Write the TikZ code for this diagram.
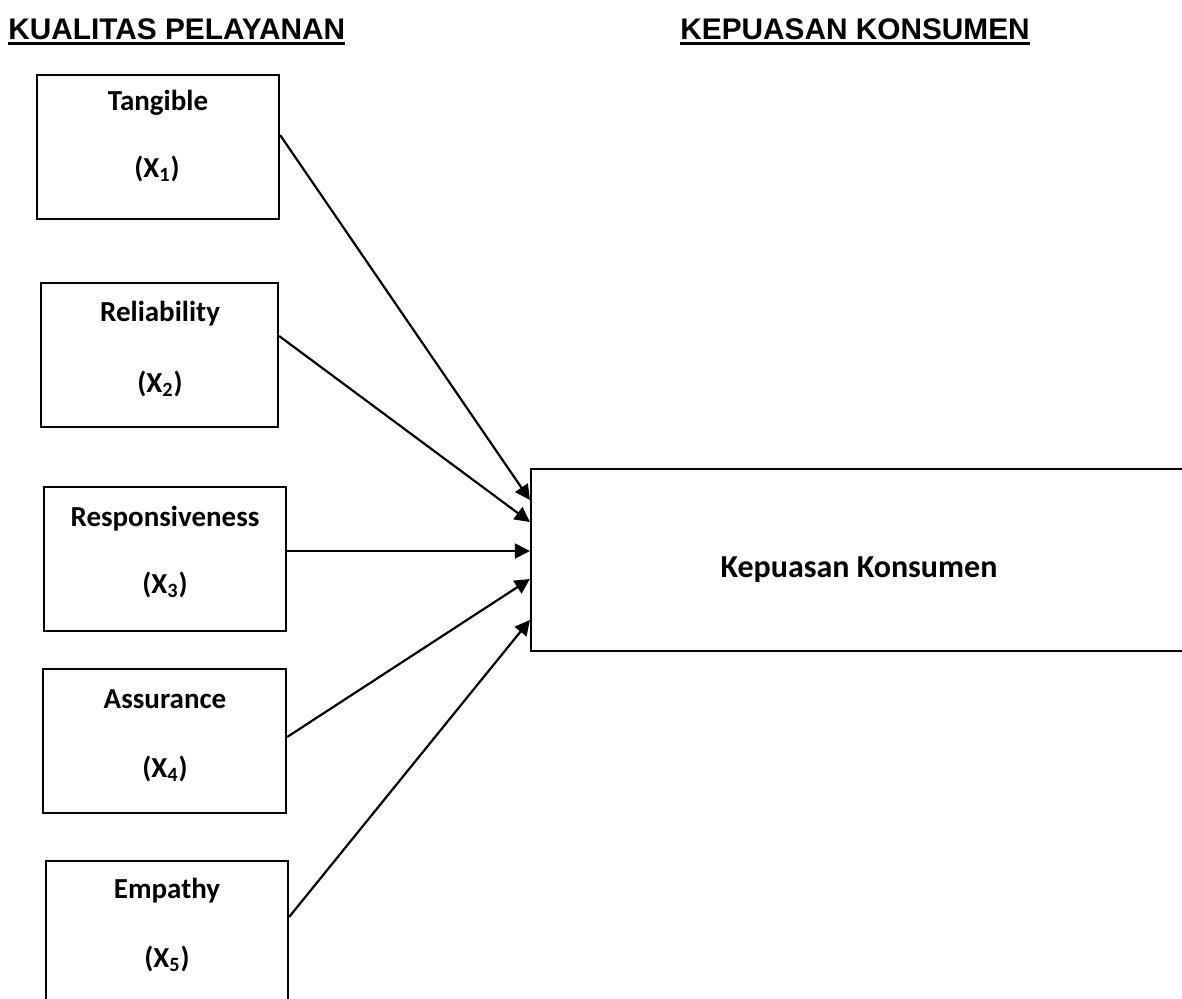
\documentclass[tikz,border=0pt]{standalone}
\usepackage{fontspec}
\setmainfont{Carlito}
\newfontfamily\hdrfont{Liberation Sans}
\usetikzlibrary{arrows.meta}
\usetikzlibrary{positioning}

\begin{document}
\begin{tikzpicture}[x=0.5pt, y=-0.5pt,
    varbox/.style={draw, line width=1.1pt, rectangle, inner sep=0pt},
    vartext/.style={anchor=base, inner sep=0pt, font=\fontsize{14.5}{17}\selectfont\bfseries},
    hdr/.style={anchor=base west, inner sep=0pt, font=\hdrfont\fontsize{14.9}{17}\selectfont\bfseries},
    arr/.style={-{Triangle[length=7.5pt, width=7.5pt]}, line width=1.1pt}]
              \clip (0,0) rectangle (1182,998);

              \node[hdr] (kualitas) at (8,39) {KUALITAS PELAYANAN};
              \node[hdr] (kepuasanhdr) at (680,39) {KEPUASAN KONSUMEN};
              \draw[line width=1.5pt] ([yshift=-2.1pt]kualitas.base west) -- ([yshift=-2.1pt]kualitas.base east);
              \draw[line width=1.5pt] ([yshift=-2.1pt]kepuasanhdr.base west) -- ([yshift=-2.1pt]kepuasanhdr.base east);

              \node[varbox, minimum width=121pt, minimum height=72pt] (tangible) at (158,147) {};
              \node[varbox, minimum width=118.5pt, minimum height=72pt] (reliability) at (159.5,355) {};
              \node[varbox, minimum width=121pt, minimum height=72pt] (responsiveness) at (165,559) {};
              \node[varbox, minimum width=121.5pt, minimum height=72pt] (assurance) at (164.5,741) {};
              \node[varbox, minimum width=121pt, minimum height=72pt] (empathy) at (167,933) {};
              \node[varbox, minimum width=326.5pt, minimum height=91pt] (kepuasan) at (857.5,560) {};

              \node[vartext] (tangibleT) at (158,110) {Tangible};
              \node[vartext] (tangibleX) at (157,177) {(X\textsubscript{1})};
              \node[vartext] (reliabilityT) at (160,321) {Reliability};
              \node[vartext] (reliabilityX) at (160,392) {(X\textsubscript{2})};
              \node[vartext] (responsivenessT) at (165,526) {Responsiveness};
              \node[vartext] (responsivenessX) at (165,593) {(X\textsubscript{3})};
              \node[vartext] (assuranceT) at (165,708) {Assurance};
              \node[vartext] (assuranceX) at (165,777) {(X\textsubscript{4})};
              \node[vartext] (empathyT) at (167,898) {Empathy};
              \node[vartext] (empathyX) at (167,967) {(X\textsubscript{5})};
              \node[vartext, font=\fontsize{16}{19}\selectfont\bfseries] (kepuasanT) at (859,577) {Kepuasan Konsumen};

              \draw[arr] (tangible.east |- 0,135) -- (kepuasan.west |- 0,500);
              \draw[arr] (reliability.east |- 0,336) -- (kepuasan.west |- 0,522);
              \draw[arr] (responsiveness.east |- 0,551) -- (kepuasan.west |- 0,551);
              \draw[arr] (assurance.east |- 0,737) -- (kepuasan.west |- 0,579);
              \draw[arr] (empathy.east |- 0,917) -- (kepuasan.west |- 0,620);
            \end{tikzpicture}
\end{document}
